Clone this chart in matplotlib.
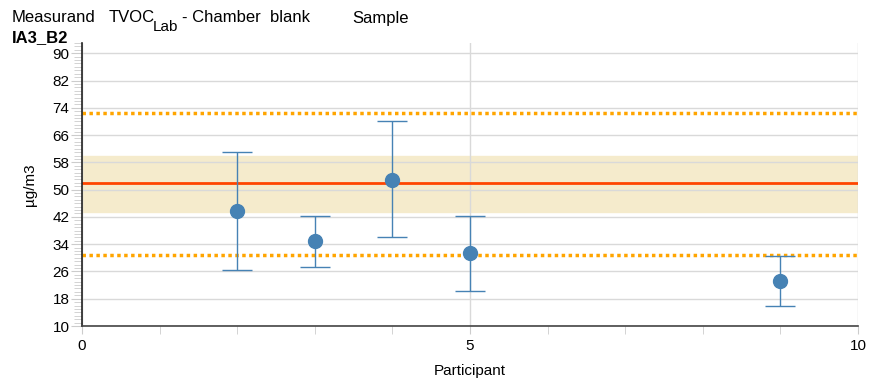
import matplotlib.pyplot as plt
import numpy as np
from matplotlib.ticker import MultipleLocator

plt.rcParams['font.family'] = ['Liberation Sans', 'DejaVu Sans']

# Participant results
participants = [2, 3, 4, 5, 9]
values = [43.6, 34.9, 52.9, 31.4, 23.2]
upper = [61.1, 42.4, 70.0, 42.4, 30.4]
lower = [26.3, 27.3, 36.1, 20.3, 16.0]

# Reference lines
assigned_value = 52.0
band_low, band_high = 43.3, 60.0
limit_low, limit_high = 30.9, 72.6

y_ticks = [10, 18, 26, 34, 42, 50, 58, 66, 74, 82, 90]
x_ticks = [0, 5, 10]

fig = plt.figure(figsize=(8.69, 3.83), dpi=100)
ax = fig.add_axes([82 / 869, 57 / 383, 776 / 869, 283 / 383])

blue = '#4682B4'

ax.axhspan(band_low, band_high, color='#F5EBCC', zorder=0)
ax.axhline(assigned_value, color='#FF4500', lw=2, zorder=2)
ax.axhline(limit_high, color='#FFA500', lw=2.5, ls=(0, (1, 1)), zorder=2)
ax.axhline(limit_low, color='#FFA500', lw=2.5, ls=(0, (1, 1)), zorder=2)

v = np.array(values)
yerr = [v - np.array(lower), np.array(upper) - v]
ax.errorbar(participants, values, yerr=yerr, fmt='o', color=blue,
            ms=10, elinewidth=1, capsize=11, capthick=1, zorder=3)

ax.set_xlim(0, 10)
ax.set_ylim(10, 93)
ax.set_xticks(x_ticks)
ax.xaxis.set_minor_locator(MultipleLocator(1))
ax.set_yticks(y_ticks)
ax.yaxis.set_minor_locator(MultipleLocator(1))

ax.grid(True, which='major', color='#d9d9d9', lw=1, zorder=1)
ax.set_axisbelow(True)

for s in ['top', 'right']:
    ax.spines[s].set_visible(False)
ax.spines['left'].set_color('#222222')
ax.spines['bottom'].set_color('#444444')
ax.spines['left'].set_linewidth(1.2)
ax.spines['bottom'].set_linewidth(1.2)

ax.tick_params(axis='y', which='major', length=8, color='#cccccc', labelsize=11, pad=1)
ax.tick_params(axis='y', which='minor', length=6, color='#cccccc')
ax.tick_params(axis='x', which='major', length=6, color='#cccccc', labelsize=11, pad=3)
ax.tick_params(axis='x', which='minor', length=6, color='#cccccc')

ax.set_xlabel('Participant', fontsize=11, labelpad=8)
ax.set_ylabel('µg/m3', fontsize=11, labelpad=11)

# header line
ty = 1 - 18 / 383
fig.text(12 / 869, ty, 'Measurand', fontsize=12, va='center', ha='left')
fig.text(109 / 869, ty, 'TVOC', fontsize=12, va='center', ha='left')
fig.text(153 / 869, 1 - 27 / 383, 'Lab', fontsize=11, va='center', ha='left')
fig.text(182 / 869, ty, '- Chamber  blank', fontsize=12, va='center', ha='left')
fig.text(352 / 869, ty, 'Sample', fontsize=12, va='center', ha='left')
fig.text(12 / 869, 1 - 38 / 383, 'IA3_B2', fontsize=12, fontweight='bold',
         va='center', ha='left')

fig.savefig('out.png', dpi=100)
